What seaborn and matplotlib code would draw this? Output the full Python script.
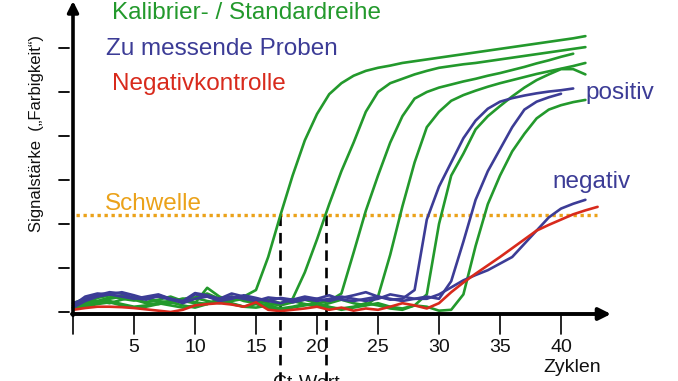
import numpy as np
import pandas as pd
import matplotlib
matplotlib.use("Agg")
import matplotlib.pyplot as plt
import seaborn as sns
from matplotlib import font_manager

# ---------------- data ----------------
CYCLES = list(range(0, 44))
NaN = np.nan

G1 = [0.12, 0.22, 0.32, 0.38, 0.30, 0.26, 0.32, 0.22, 0.25, 0.30,
      0.33, 0.42, 0.30, 0.28, 0.35, 0.50, 1.25, 2.20, 3.10, 3.90,
      4.50, 4.95, 5.20, 5.37, 5.48, 5.55, 5.60, 5.66, 5.70, 5.74,
      5.78, 5.82, 5.86, 5.90, 5.94, 5.98, 6.02, 6.06, 6.10, 6.14,
      6.18, 6.22, 6.27, NaN]
G2 = [0.20, 0.30, 0.25, 0.33, 0.38, 0.30, 0.22, 0.28, 0.35, 0.25,
      0.20, 0.55, 0.35, 0.25, 0.30, 0.22, 0.28, 0.20, 0.30, 0.90,
      1.65, 2.45, 3.20, 3.85, 4.55, 5.00, 5.20, 5.30, 5.40, 5.48,
      5.55, 5.59, 5.63, 5.66, 5.70, 5.74, 5.78, 5.82, 5.86, 5.90,
      5.94, 5.98, 6.02, NaN]
G3 = [0.10, 0.18, 0.25, 0.20, 0.28, 0.35, 0.30, 0.25, 0.20, 0.28,
      0.32, 0.25, 0.20, 0.27, 0.32, 0.25, 0.20, 0.15, 0.22, 0.28,
      0.20, 0.25, 0.42, 1.35, 2.30, 3.10, 3.85, 4.45, 4.85, 5.00,
      5.10, 5.17, 5.24, 5.30, 5.37, 5.43, 5.50, 5.57, 5.65, 5.72,
      5.80, 5.87, NaN, NaN]
G4 = [0.15, 0.25, 0.20, 0.30, 0.35, 0.28, 0.20, 0.18, 0.25, 0.30,
      0.22, 0.18, 0.28, 0.35, 0.25, 0.20, 0.15, 0.20, 0.25, 0.18,
      0.12, 0.20, 0.28, 0.20, 0.15, 0.35, 1.30, 2.40, 3.40, 4.20,
      4.55, 4.80, 4.93, 5.03, 5.12, 5.20, 5.27, 5.34, 5.41, 5.47,
      5.53, 5.59, 5.66, NaN]
G5 = [0.08, 0.15, 0.20, 0.25, 0.18, 0.12, 0.15, 0.20, 0.15, 0.10,
      0.15, 0.20, 0.25, 0.18, 0.12, 0.10, 0.15, 0.08, 0.12, 0.18,
      0.15, 0.10, 0.08, 0.12, 0.20, 0.15, 0.08, 0.05, 0.15, 0.40,
      2.00, 3.10, 3.60, 4.15, 4.45, 4.68, 4.90, 5.10, 5.27, 5.40,
      5.52, 5.52, 5.40, NaN]
G6 = [0.10, 0.12, 0.18, 0.22, 0.15, 0.10, 0.12, 0.18, 0.22, 0.15,
      0.10, 0.18, 0.30, 0.20, 0.12, 0.18, 0.10, 0.05, 0.10, 0.15,
      0.20, 0.12, 0.05, 0.10, 0.15, 0.20, 0.12, 0.08, 0.15, 0.12,
      0.03, 0.05, 0.40, 1.50, 2.45, 3.10, 3.65, 4.05, 4.40, 4.60,
      4.70, 4.77, 4.82, NaN]

B1 = [0.15, 0.35, 0.42, 0.40, 0.45, 0.38, 0.30, 0.35, 0.28, 0.22,
      0.40, 0.35, 0.30, 0.42, 0.35, 0.30, 0.25, 0.32, 0.28, 0.35,
      0.30, 0.38, 0.28, 0.25, 0.30, 0.35, 0.28, 0.30, 0.50, 2.10,
      2.85, 3.40, 3.95, 4.35, 4.62, 4.78, 4.86, 4.92, 4.97, 5.01,
      5.04, 5.08, NaN, NaN]
B2 = [0.20, 0.30, 0.38, 0.45, 0.42, 0.32, 0.28, 0.38, 0.30, 0.25,
      0.43, 0.38, 0.30, 0.35, 0.30, 0.25, 0.33, 0.30, 0.22, 0.28,
      0.30, 0.25, 0.32, 0.38, 0.45, 0.35, 0.30, 0.25, 0.30, 0.35,
      0.30, 0.70, 1.60, 2.55, 3.20, 3.70, 4.20, 4.60, 4.78, 4.88,
      4.96, NaN, NaN, NaN]
B3 = [0.10, 0.25, 0.35, 0.40, 0.35, 0.30, 0.35, 0.40, 0.30, 0.20,
      0.30, 0.35, 0.25, 0.30, 0.38, 0.32, 0.25, 0.20, 0.28, 0.30,
      0.25, 0.30, 0.35, 0.30, 0.25, 0.30, 0.40, 0.35, 0.30, 0.30,
      0.40, 0.56, 0.72, 0.84, 0.95, 1.10, 1.25, 1.55, 1.85, 2.15,
      2.35, 2.46, 2.55, NaN]
RED = [0.05, 0.09, 0.12, 0.12, 0.11, 0.09, 0.06, 0.03, 0.00, 0.05,
       0.15, 0.18, 0.20, 0.17, 0.12, 0.22, 0.05, 0.02, 0.05, 0.08,
       0.12, 0.05, 0.10, 0.03, 0.08, 0.05, 0.12, 0.20, 0.15, 0.08,
       0.20, 0.45, 0.67, 0.87, 1.06, 1.25, 1.45, 1.65, 1.85, 1.98,
       2.10, 2.22, 2.31, 2.39]

THRESHOLD = 2.2
CT_VALUES = [17.0, 20.7]
X_TICKS = [0, 5, 10, 15, 20, 25, 30, 35, 40]
Y_TICKS = [0, 1, 2, 3, 4, 5, 6]

GREEN = "#23992c"
BLUE = "#3c3c96"
RED_C = "#d82a1c"
ORANGE = "#eba21a"

# ---------------- build long table ----------------
groups = {
    "green": {"G1": G1, "G2": G2, "G3": G3, "G4": G4, "G5": G5, "G6": G6},
    "blue": {"B1": B1, "B2": B2, "B3": B3},
    "red": {"R": RED},
}
rows = []
for grp, curves in groups.items():
    for name, vals in curves.items():
        for c, v in zip(CYCLES, vals):
            rows.append((grp, name, c, v))
df = pd.DataFrame(rows, columns=["group", "curve", "cycle", "value"]).dropna()

# ---------------- figure ----------------
sns.set_theme(style="white")
avail = {f.name for f in font_manager.fontManager.ttflist}
plt.rcParams["font.family"] = ["Liberation Sans", "DejaVu Sans"]
narrow = "Liberation Sans Narrow" if "Liberation Sans Narrow" in avail else "Liberation Sans"

fig = plt.figure(figsize=(6.78, 3.81), dpi=100)
ax = fig.add_axes([0, 0, 1, 1])
PX_X0, PX_PER_C, PX_Y0, PX_PER_V = 73.0, 12.2, 312.0, 44.0
XLIM = (-PX_X0 / PX_PER_C, (678 - PX_X0) / PX_PER_C)
YLIM = ((PX_Y0 - 381) / PX_PER_V, PX_Y0 / PX_PER_V)


def cx(px):
    return (px - PX_X0) / PX_PER_C


def vy(py):
    return (PX_Y0 - py) / PX_PER_V


# threshold dotted line
ax.plot([cx(76), cx(597)], [THRESHOLD, THRESHOLD], color=ORANGE, lw=2.4,
        linestyle=(0, (1.0, 1.1)), zorder=1)

# Ct dashed lines
for ct in CT_VALUES:
    ax.plot([ct, ct], [THRESHOLD, vy(381)], color="black", lw=1.9,
            linestyle=(0, (4.0, 2.6)), zorder=2, clip_on=False)

# curves
for grp, col in [("green", GREEN), ("blue", BLUE), ("red", RED_C)]:
    sns.lineplot(data=df[df.group == grp], x="cycle", y="value", units="curve",
                 estimator=None, color=col, lw=1.9, ax=ax, legend=False,
                 zorder=3, solid_capstyle="round")
ax.axis("off")
ax.set_xlim(*XLIM)
ax.set_ylim(*YLIM)

# axes with arrows
y_axis_v = vy(314)
ax.annotate("", xy=(0, vy(1)), xytext=(0, y_axis_v - 0.03),
            arrowprops=dict(arrowstyle="-|>", lw=2.6, color="black",
                            mutation_scale=16, shrinkA=0, shrinkB=0),
            zorder=5, annotation_clip=False)
ax.annotate("", xy=(cx(611), y_axis_v), xytext=(cx(72), y_axis_v),
            arrowprops=dict(arrowstyle="-|>", lw=2.8, color="black",
                            mutation_scale=18, shrinkA=0, shrinkB=0),
            zorder=5, annotation_clip=False)

# x ticks and labels
for t in X_TICKS:
    ax.plot([t, t], [y_axis_v, vy(334)], color="black", lw=1.2, zorder=4)
    if t > 0:
        ax.text(t, vy(347), str(t), ha="center", va="center", fontsize=14,
                family=[narrow, "DejaVu Sans"], color="#111111")
# y ticks
for t in Y_TICKS:
    ax.plot([cx(59), cx(69)], [t, t], color="black", lw=1.3, zorder=4)

# labels
ax.text(cx(572), vy(368), "Zyklen", ha="center", va="center", fontsize=14,
        color="#111111")
ax.text(cx(37), vy(134), "Signalstärke  („Farbigkeit“)", rotation=90,
        ha="center", va="center", fontsize=12, color="#111111")
ax.text(cx(306), vy(375), "Ct-Wert", ha="center", va="top", fontsize=14,
        color="#111111", clip_on=False)

# legend-like texts
FS = 17.5
ax.text(cx(112), vy(19), "Kalibrier- / Standardreihe", color=GREEN,
        fontsize=FS, va="baseline", ha="left")
ax.text(cx(106), vy(55), "Zu messende Proben", color=BLUE,
        fontsize=FS, va="baseline", ha="left")
ax.text(cx(112), vy(90), "Negativkontrolle", color=RED_C,
        fontsize=FS, va="baseline", ha="left")
ax.text(cx(585), vy(99), "positiv", color=BLUE, fontsize=FS,
        va="baseline", ha="left")
ax.text(cx(552), vy(188), "negativ", color=BLUE, fontsize=FS,
        va="baseline", ha="left")
ax.text(cx(105), vy(210), "Schwelle", color=ORANGE, fontsize=FS,
        va="baseline", ha="left")

fig.savefig("out.png", dpi=100)
